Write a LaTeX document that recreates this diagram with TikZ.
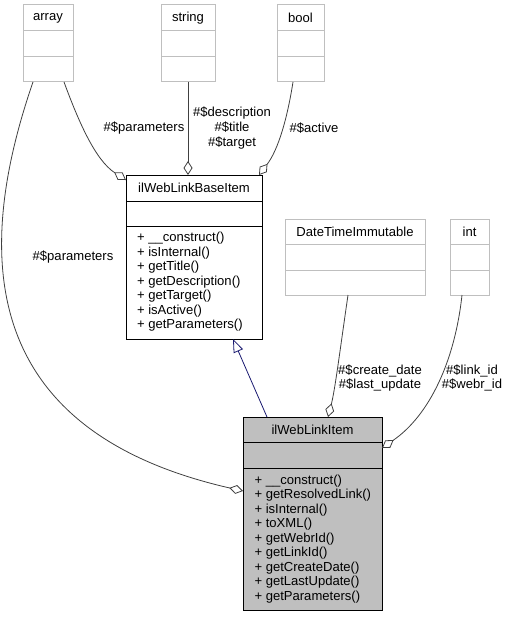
\documentclass[tikz,border=0pt]{standalone}
\usepackage{fontspec}
\setmainfont{Liberation Sans}
\usetikzlibrary{arrows.meta,calc}
\definecolor{edgec}{HTML}{404040}
\definecolor{boxgray}{HTML}{BFBFBF}
\definecolor{genblue}{HTML}{191970}
\begin{document}
\begin{tikzpicture}[x=0.75pt,y=-0.75pt,
  every node/.style={font=\fontsize{9.8}{10.9}\selectfont, inner sep=0pt, outer sep=0pt},
  ext/.style={draw=boxgray, line width=0.75pt, rectangle, anchor=north west},
  cls/.style={draw=black, line width=0.75pt, rectangle, anchor=north west},
  extline/.style={draw=boxgray, line width=0.75pt},
  clsline/.style={draw=black, line width=0.75pt},
  agg/.style={draw=edgec, line width=0.6pt, -{Diamond[open,length=10.5pt,width=6.75pt]}},
  gen/.style={draw=genblue, line width=0.6pt, -{Triangle[open,length=10pt,width=7.5pt]}},
  lbl/.style={align=center, font=\fontsize{9.8}{11}\selectfont},
  meth/.style={anchor=west, align=left}]

\useasboundingbox (0,0) rectangle (506,617);

% external type boxes
\node[ext, minimum width=37.5pt, minimum height=57.75pt] (array) at (23,5) {};
\node[ext, minimum width=40.5pt, minimum height=57.75pt] (string) at (161,5) {};
\node[ext, minimum width=35.25pt, minimum height=57.75pt] (bool) at (277,5) {};
\node[ext, minimum width=105pt, minimum height=57pt] (dti) at (285,219) {};
\node[ext, minimum width=29.25pt, minimum height=57pt] (int) at (450,219) {};

\foreach \n/\a/\b in {array/26/52, string/26/52, bool/26/52, dti/25/51, int/25/51}{
  \draw[extline] ($(\n.north west)+(0,\a)$) -- ($(\n.north east)+(0,\a)$);
  \draw[extline] ($(\n.north west)+(0,\b)$) -- ($(\n.north east)+(0,\b)$);
}
\node (arrayt) at ($(array.north)+(0,13)$) {array};
\node (stringt) at ($(string.north)+(0,13)$) {string};
\node (boolt) at ($(bool.north)+(0,13)$) {bool};
\node (dtit) at ($(dti.north)+(0,12.5)$) {DateTimeImmutable};
\node (intt) at ($(int.north)+(0,12.5)$) {int};

% ilWebLinkBaseItem
\node[cls, fill=white, minimum width=102pt, minimum height=123pt] (base) at (126,175) {};
\draw[clsline] ($(base.north west)+(0,26)$) -- ($(base.north east)+(0,26)$);
\draw[clsline] ($(base.north west)+(0,51)$) -- ($(base.north east)+(0,51)$);
\node (baset) at ($(base.north)+(0,13)$) {ilWebLinkBaseItem};
\node[meth] (basem) at ($(base.north west)+(11,107)$) {+ \_\_construct()\\+ isInternal()\\+ getTitle()\\+ getDescription()\\+ getTarget()\\+ isActive()\\+ getParameters()};

% ilWebLinkItem
\node[cls, fill=boxgray, minimum width=104.25pt, minimum height=144.75pt] (item) at (243,417) {};
\draw[clsline] ($(item.north west)+(0,25)$) -- ($(item.north east)+(0,25)$);
\draw[clsline] ($(item.north west)+(0,51)$) -- ($(item.north east)+(0,51)$);
\node (itemt) at ($(item.north)+(0,12.5)$) {ilWebLinkItem};
\node[meth] (itemm) at ($(item.north west)+(11.5,122)$) {+ \_\_construct()\\+ getResolvedLink()\\+ isInternal()\\+ toXML()\\+ getWebrId()\\+ getLinkId()\\+ getCreateDate()\\+ getLastUpdate()\\+ getParameters()};

% connectors
\draw[agg] ($(array.south west)+(41,0)$) .. controls (78,120) and (95,160) .. ($(base.north west)+(0,5)$);
\draw[agg] (string.south) -- ($(base.north west)+(62,0)$);
\draw[agg] ($(bool.south west)+(16,0)$) .. controls (287,120) and (278,150) .. ($(base.north east)+(-3,0)$);
\draw[agg] ($(array.south west)+(10,0)$) .. controls (-25,250) and (-25,430) .. ($(item.north west)+(0,74)$);
\draw[gen] ($(item.north west)+(24,0)$) -- ($(base.south west)+(107,0)$);
\draw[agg] ($(dti.south west)+(63,0)$) .. controls (340,350) and (335,390) .. ($(item.north west)+(85,0)$);
\draw[agg] ($(int.south west)+(12,0)$) .. controls (455,360) and (430,415) .. ($(item.north east)+(0,31)$);

% labels
\node[lbl] (l1) at (144,128) {\#\$parameters};
\node[lbl] (l2) at (232,128) {\#\$description\\\#\$title\\\#\$target};
\node[lbl] (l3) at (314,128) {\#\$active};
\node[lbl] (l4) at (73,257) {\#\$parameters};
\node[lbl] (l5) at (380,378) {\#\$create\_date\\\#\$last\_update};
\node[lbl] (l6) at (472,378) {\#\$link\_id\\\#\$webr\_id};
\end{tikzpicture}
\end{document}
